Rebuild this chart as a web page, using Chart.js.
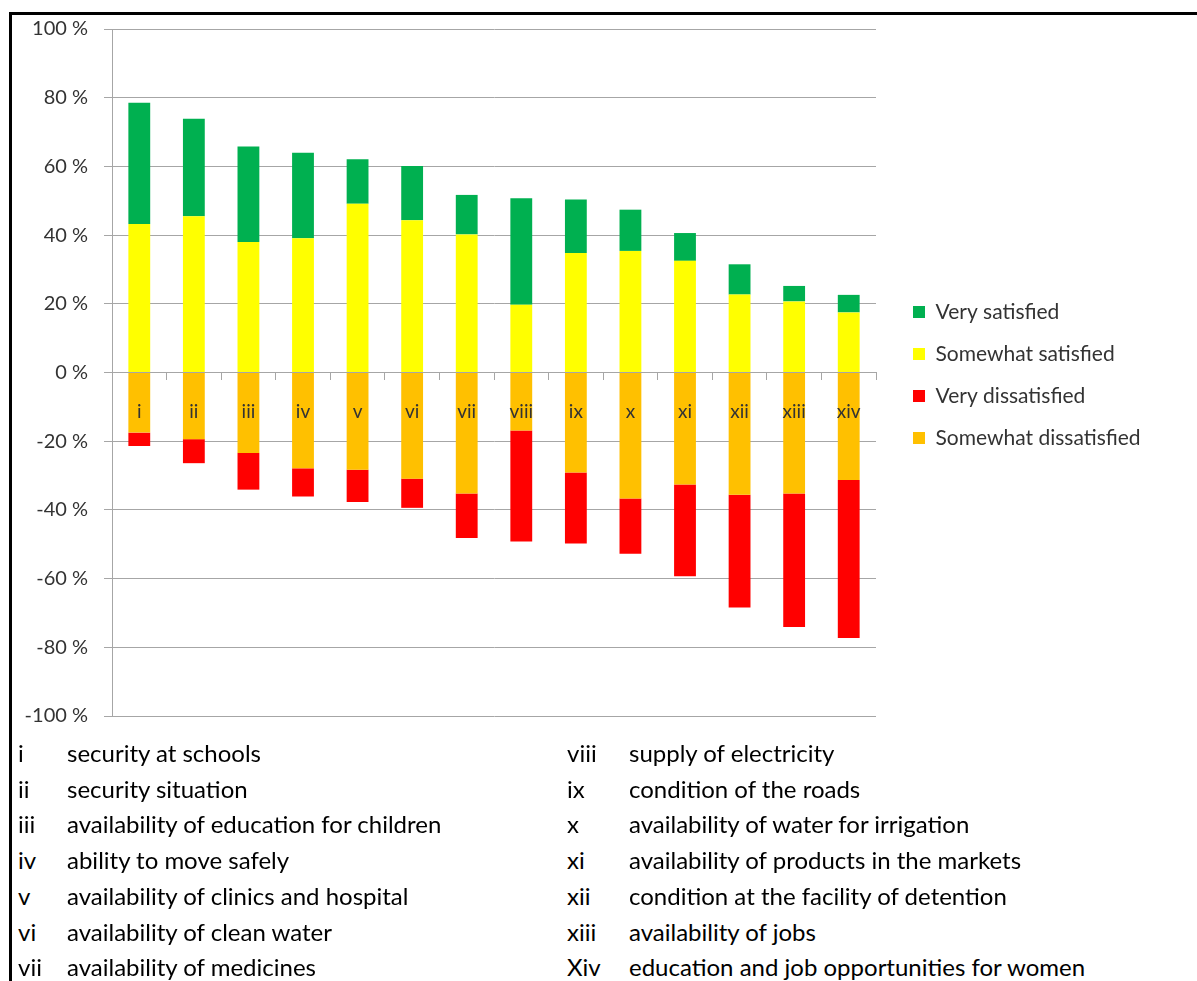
<!DOCTYPE html>
<html>
<head>
<meta charset="utf-8">
<script src="https://cdn.jsdelivr.net/npm/chart.js@4/dist/chart.umd.min.js"></script>
<style>
  body { margin: 0; background: #fff; font-family: Lato, sans-serif; }
  #frame { position: absolute; left: 9px; top: 12px; width: 1200px; height: 980px; border-top: 3px solid #000; border-left: 3px solid #000; }
  #chartBox { position: absolute; left: 12px; top: 1px; width: 1185px; height: 743px; }
  #notes { position: absolute; left: 0; top: 735px; width: 1197px; font-size: 24px; color: #000; }
  .row { position: absolute; height: 36px; line-height: 36px; white-space: nowrap; }
</style>
</head>
<body>
<div id="frame"></div>
<div id="chartBox"><canvas id="grafic"></canvas></div>
<div id="notes"></div>
<script>
const categories = ['i', 'ii', 'iii', 'iv', 'v', 'vi', 'vii', 'viii', 'ix', 'x', 'xi', 'xii', 'xiii', 'xiv'];
const verySatisfied = [35.3, 28.4, 27.8, 24.9, 13.0, 15.8, 11.5, 31.0, 15.6, 12.0, 8.1, 8.8, 4.5, 5.1];
const somewhatSatisfied = [43.2, 45.5, 38.0, 39.1, 49.1, 44.3, 40.2, 19.7, 34.8, 35.4, 32.5, 22.7, 20.7, 17.5];
const somewhatDissatisfied = [-17.5, -19.4, -23.4, -27.9, -28.3, -30.9, -35.2, -16.9, -29.1, -36.7, -32.6, -35.6, -35.2, -31.3];
const veryDissatisfied = [-3.9, -7.0, -10.7, -8.2, -9.4, -8.5, -13.0, -32.3, -20.7, -16.1, -26.7, -32.8, -38.9, -46.0];
const yTicks = [-100, -80, -60, -40, -20, 0, 20, 40, 60, 80, 100];

const notesLeft = [
  ['i', 'security at schools'],
  ['ii', 'security situation'],
  ['iii', 'availability of education for children'],
  ['iv', 'ability to move safely'],
  ['v', 'availability of clinics and hospital'],
  ['vi', 'availability of clean water'],
  ['vii', 'availability of medicines']
];
const notesRight = [
  ['viii', 'supply of electricity'],
  ['ix', 'condition of the roads'],
  ['x', 'availability of water for irrigation'],
  ['xi', 'availability of products in the markets'],
  ['xii', 'condition at the facility of detention'],
  ['xiii', 'availability of jobs'],
  ['Xiv', 'education and job opportunities for women']
];

const legendOrder = ['Very satisfied', 'Somewhat satisfied', 'Very dissatisfied', 'Somewhat dissatisfied'];
const textColor = '#333333';
const gridColor = '#a6a6a6';

// notes under the chart
const notes = document.getElementById('notes');
function addNotes(list, xNum, xText) {
  list.forEach((n, i) => {
    const top = i * 35.7;
    notes.innerHTML += `<div class="row" style="left:${xNum}px;top:${top}px">${n[0]}</div>` +
      `<div class="row" style="left:${xText}px;top:${top}px">${n[1]}</div>`;
  });
}
addNotes(notesLeft, 18, 67);
addNotes(notesRight, 567, 629);

// legend a bit away from the plot
const legendNudge = {
  id: 'legendNudge',
  afterLayout(chart) { chart.legend.left += 16; chart.legend.right += 16; }
};

new Chart(document.getElementById('grafic'), {
  type: 'bar',
  data: {
    labels: categories,
    datasets: [
      { label: 'Somewhat satisfied', data: somewhatSatisfied, backgroundColor: '#FFFF00' },
      { label: 'Very satisfied', data: verySatisfied, backgroundColor: '#00B050' },
      { label: 'Somewhat dissatisfied', data: somewhatDissatisfied, backgroundColor: '#FFC000' },
      { label: 'Very dissatisfied', data: veryDissatisfied, backgroundColor: '#FF0000' }
    ]
  },
  options: {
    responsive: true, maintainAspectRatio: false, animation: false,
    datasets: { bar: { categoryPercentage: 1, barPercentage: 0.4 } },
    layout: { padding: { top: 15, bottom: 10, right: 62.4, left: 0 } },
    scales: {
      x: {
        stacked: true,
        position: { y: 0 },
        grid: { offset: true, drawOnChartArea: false, tickLength: 7, color: gridColor },
        border: { color: gridColor },
        ticks: { z: 1, padding: 21, color: textColor, font: { family: 'Lato', size: 19 } }
      },
      y: {
        stacked: true, min: -100, max: 100,
        afterFit: (s) => { s.width = 100; },
        afterBuildTicks: (s) => { s.ticks = yTicks.map(v => ({ value: v })); },
        grid: { color: gridColor, tickLength: 8 },
        border: { color: gridColor },
        ticks: { padding: 16, color: textColor, font: { family: 'Lato', size: 20 }, callback: (v) => v + ' %' }
      }
    },
    plugins: {
      legend: {
        position: 'right',
        labels: {
          boxWidth: 12, boxHeight: 12, padding: 21, color: textColor,
          font: { family: 'Lato', size: 21 },
          sort: (a, b) => legendOrder.indexOf(a.text) - legendOrder.indexOf(b.text)
        }
      },
      tooltip: { enabled: false }
    }
  },
  plugins: [legendNudge]
});
</script>
</body>
</html>
